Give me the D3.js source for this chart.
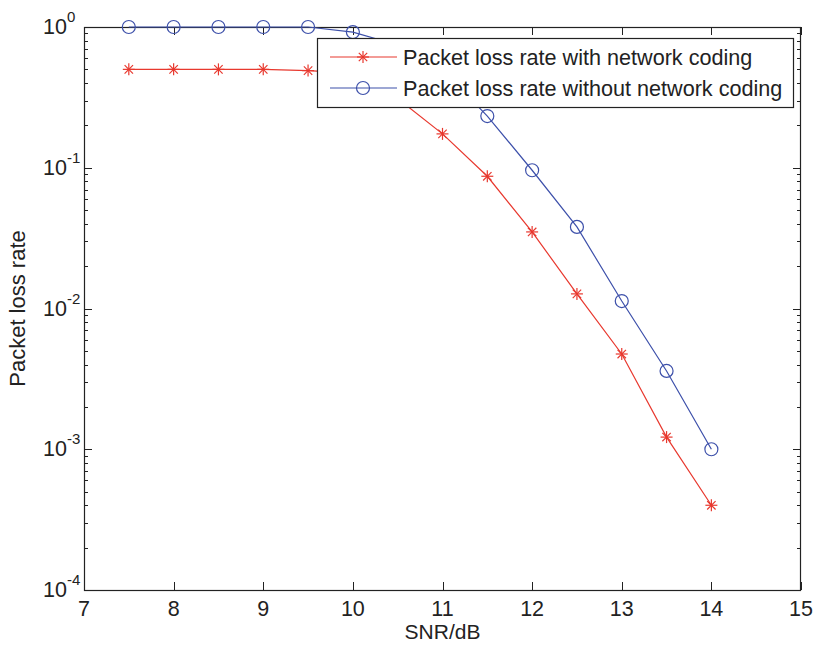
<!DOCTYPE html>
<html>
<head>
<meta charset="utf-8">
<script src="https://cdn.jsdelivr.net/npm/d3@7"></script>
<style>
  body { margin: 0; background: #fff; }
  svg { display: block; font-family: "Liberation Sans", Arial, Helvetica, sans-serif; }
</style>
</head>
<body>
<div id="chart"></div>
<script>
// SNR values (dB)
const snr = [7.5, 8, 8.5, 9, 9.5, 10, 10.5, 11, 11.5, 12, 12.5, 13, 13.5, 14];
// packet loss rate with network coding
const lossWithNC = [0.5, 0.5, 0.5, 0.5, 0.49, 0.47, 0.31, 0.174, 0.087, 0.035, 0.0127, 0.00475, 0.00122, 0.0004];
// packet loss rate without network coding
const lossWithoutNC = [1, 1, 1, 1, 1, 0.92, 0.745, 0.5, 0.233, 0.096, 0.038, 0.0113, 0.0036, 0.001];
const xTicks = [7, 8, 9, 10, 11, 12, 13, 14, 15];
const yExponents = [0, -1, -2, -3, -4];
const seriesNames = ["Packet loss rate with network coding", "Packet loss rate without network coding"];

const W = 813, H = 645;
const margin = { left: 84, right: 12, top: 27, bottom: 55 };
const red = "#e8382e", blue = "#3d50aa";

const svg = d3.select("#chart").append("svg").attr("width", W).attr("height", H);

const x = d3.scaleLinear().domain([7, 15]).range([margin.left, W - margin.right]);
const y = d3.scaleLog().domain([1e-4, 1]).range([H - margin.bottom, margin.top]);

const x0 = x.range()[0], x1 = x.range()[1], y0 = y.range()[0], y1 = y.range()[1];

// minor log ticks
const minor = [];
for (let e = -4; e < 0; e++) for (let m = 2; m <= 9; m++) minor.push(m * Math.pow(10, e));

const tickG = svg.append("g").attr("stroke", "#222").attr("stroke-width", 1);
minor.forEach(v => {
    const yy = Math.round(y(v)) + 0.5;
    tickG.append("line").attr("x1", x0).attr("x2", x0 + 4).attr("y1", yy).attr("y2", yy);
    tickG.append("line").attr("x1", x1).attr("x2", x1 - 4).attr("y1", yy).attr("y2", yy);
});
yExponents.forEach(e => {
    const yy = Math.round(y(Math.pow(10, e))) + 0.5;
    tickG.append("line").attr("x1", x0).attr("x2", x0 + 8).attr("y1", yy).attr("y2", yy);
    tickG.append("line").attr("x1", x1).attr("x2", x1 - 8).attr("y1", yy).attr("y2", yy);
});
xTicks.forEach(t => {
    const xx = Math.round(x(t)) + 0.5;
    tickG.append("line").attr("x1", xx).attr("x2", xx).attr("y1", y0).attr("y2", y0 - 8);
    tickG.append("line").attr("x1", xx).attr("x2", xx).attr("y1", y1).attr("y2", y1 + 8);
});

// frame
svg.append("rect")
    .attr("x", x0 + 0.5).attr("y", y1 + 0.5)
    .attr("width", x1 - x0 - 1).attr("height", y0 - y1)
    .attr("fill", "none").attr("stroke", "#222").attr("stroke-width", 1.2);

// x tick labels
svg.append("g").selectAll("text").data(xTicks).enter().append("text")
    .attr("x", d => x(d)).attr("y", y0 + 26)
    .attr("text-anchor", "middle").attr("font-size", 21.5).attr("fill", "#222")
    .text(d => d);

// y tick labels: "10" with superscript exponent
const yl = svg.append("g").selectAll("text").data(yExponents).enter().append("text")
    .attr("x", x0 - 41).attr("y", d => y(Math.pow(10, d)) + 7)
    .attr("font-size", 21.5).attr("fill", "#222");
yl.append("tspan").text("10");
yl.append("tspan").attr("dy", -12).attr("font-size", 15).text(d => d);

// axis labels
svg.append("text").attr("x", (x0 + x1) / 2).attr("y", 639)
    .attr("text-anchor", "middle").attr("font-size", 21).attr("fill", "#222").text("SNR/dB");
svg.append("text").attr("transform", `translate(25,${(y0 + y1) / 2}) rotate(-90)`)
    .attr("text-anchor", "middle").attr("font-size", 22).attr("fill", "#222").text("Packet loss rate");

const line = d3.line().x(d => x(d[0])).y(d => y(d[1]));
const redPts = snr.map((s, i) => [s, lossWithNC[i]]);
const bluePts = snr.map((s, i) => [s, lossWithoutNC[i]]);

function star(g, cx, cy, r, color) {
    const s = g.append("g").attr("stroke", color).attr("stroke-width", 1.2);
    s.append("line").attr("x1", cx - r).attr("x2", cx + r).attr("y1", cy).attr("y2", cy);
    s.append("line").attr("x1", cx).attr("x2", cx).attr("y1", cy - r).attr("y2", cy + r);
    const d = r * 0.7;
    s.append("line").attr("x1", cx - d).attr("x2", cx + d).attr("y1", cy - d).attr("y2", cy + d);
    s.append("line").attr("x1", cx - d).attr("x2", cx + d).attr("y1", cy + d).attr("y2", cy - d);
}

const plot = svg.append("g");
plot.append("path").datum(redPts).attr("d", line).attr("fill", "none").attr("stroke", red).attr("stroke-width", 1.2);
redPts.forEach(p => star(plot, x(p[0]), y(p[1]), 6, red));
plot.append("path").datum(bluePts).attr("d", line).attr("fill", "none").attr("stroke", blue).attr("stroke-width", 1.2);
plot.selectAll("circle.m").data(bluePts).enter().append("circle").attr("class", "m")
    .attr("cx", d => x(d[0])).attr("cy", d => y(d[1])).attr("r", 6.5)
    .attr("fill", "none").attr("stroke", blue).attr("stroke-width", 1.2);

// legend
const lg = svg.append("g");
lg.append("rect").attr("x", 317.5).attr("y", 38.5).attr("width", 476).attr("height", 69)
    .attr("fill", "#fff").attr("stroke", "#222").attr("stroke-width", 1.2);
[0, 1].forEach(i => {
    const cy = 57 + i * 31;
    const c = i === 0 ? red : blue;
    lg.append("line").attr("x1", 330).attr("x2", 397).attr("y1", cy).attr("y2", cy)
        .attr("stroke", c).attr("stroke-width", 1.2);
    if (i === 0) star(lg, 363, cy, 6, c);
    else lg.append("circle").attr("cx", 363).attr("cy", cy).attr("r", 6.5)
        .attr("fill", "none").attr("stroke", c).attr("stroke-width", 1.2);
    lg.append("text").attr("x", 403).attr("y", cy + 8).attr("font-size", 21.6).attr("fill", "#222")
        .text(seriesNames[i]);
});
</script>
</body>
</html>
